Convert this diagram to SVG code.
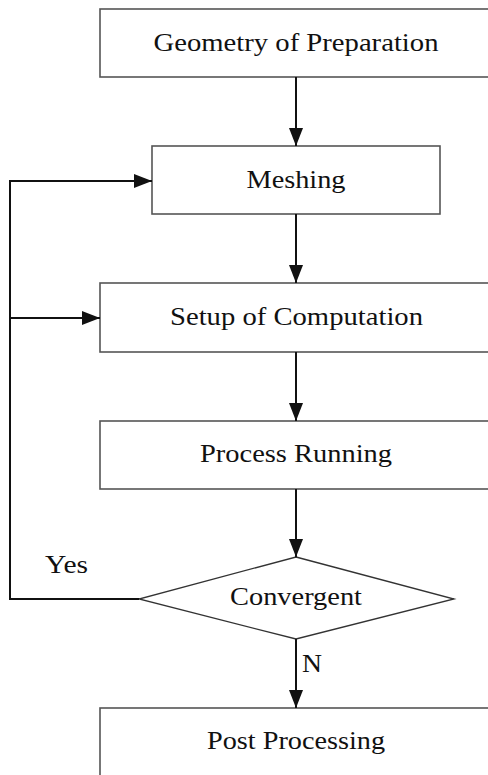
<svg xmlns="http://www.w3.org/2000/svg" width="488" height="775" viewBox="0 0 488 775">
<defs>
<marker id="arr" viewBox="0 0 18 14" refX="18" refY="7" markerWidth="18" markerHeight="14" markerUnits="userSpaceOnUse" orient="auto">
<path d="M0,0 L18,7 L0,14 Z" fill="#111"/>
</marker>
<style>
.box{fill:#fff;stroke:#555;stroke-width:1.6}
.dia{fill:#fff;stroke:#333;stroke-width:1.3}
.lbl{font-family:"Liberation Serif","Times New Roman",serif;font-size:25px;fill:#111;text-anchor:middle}
.lbs{font-family:"Liberation Serif","Times New Roman",serif;font-size:25px;fill:#111}
.con{fill:none;stroke:#111;stroke-width:2}
</style>
</defs>
<rect width="488" height="775" fill="#fff"/>
<g id="n1"><rect class="box" x="100" y="9" width="392" height="68"/><text class="lbl" x="296" y="51" textLength="285" lengthAdjust="spacingAndGlyphs">Geometry of Preparation</text></g>
<g id="n2"><rect class="box" x="152" y="146" width="288" height="68"/><text class="lbl" x="296" y="188" textLength="99" lengthAdjust="spacingAndGlyphs">Meshing</text></g>
<g id="n3"><rect class="box" x="100" y="283" width="392" height="69"/><text class="lbl" x="296.5" y="325" textLength="253" lengthAdjust="spacingAndGlyphs">Setup of Computation</text></g>
<g id="n4"><rect class="box" x="100" y="421" width="392" height="68"/><text class="lbl" x="296" y="462" textLength="192" lengthAdjust="spacingAndGlyphs">Process Running</text></g>
<g id="n5"><polygon class="dia" points="296,557 454,599 296,639 139,599"/><text class="lbl" x="296" y="605" textLength="132" lengthAdjust="spacingAndGlyphs">Convergent</text></g>
<g id="n6"><rect class="box" x="100" y="708" width="392" height="80"/><text class="lbl" x="296" y="749" textLength="178" lengthAdjust="spacingAndGlyphs">Post Processing</text></g>
<g id="connectors">
<line class="con" x1="296" y1="77" x2="296" y2="146" marker-end="url(#arr)"/>
<line class="con" x1="296" y1="214" x2="296" y2="283" marker-end="url(#arr)"/>
<line class="con" x1="296" y1="352" x2="296" y2="421" marker-end="url(#arr)"/>
<line class="con" x1="296" y1="489" x2="296" y2="557" marker-end="url(#arr)"/>
<line class="con" x1="296" y1="639" x2="296" y2="708" marker-end="url(#arr)"/>
<polyline class="con" points="139,599 10,599 10,181 152,181" marker-end="url(#arr)"/>
<line class="con" x1="10" y1="318" x2="100" y2="318" marker-end="url(#arr)"/>
<text class="lbs" x="45" y="573" textLength="43" lengthAdjust="spacingAndGlyphs">Yes</text>
<text class="lbs" x="302" y="672" textLength="20" lengthAdjust="spacingAndGlyphs">N</text>
</g>
</svg>
